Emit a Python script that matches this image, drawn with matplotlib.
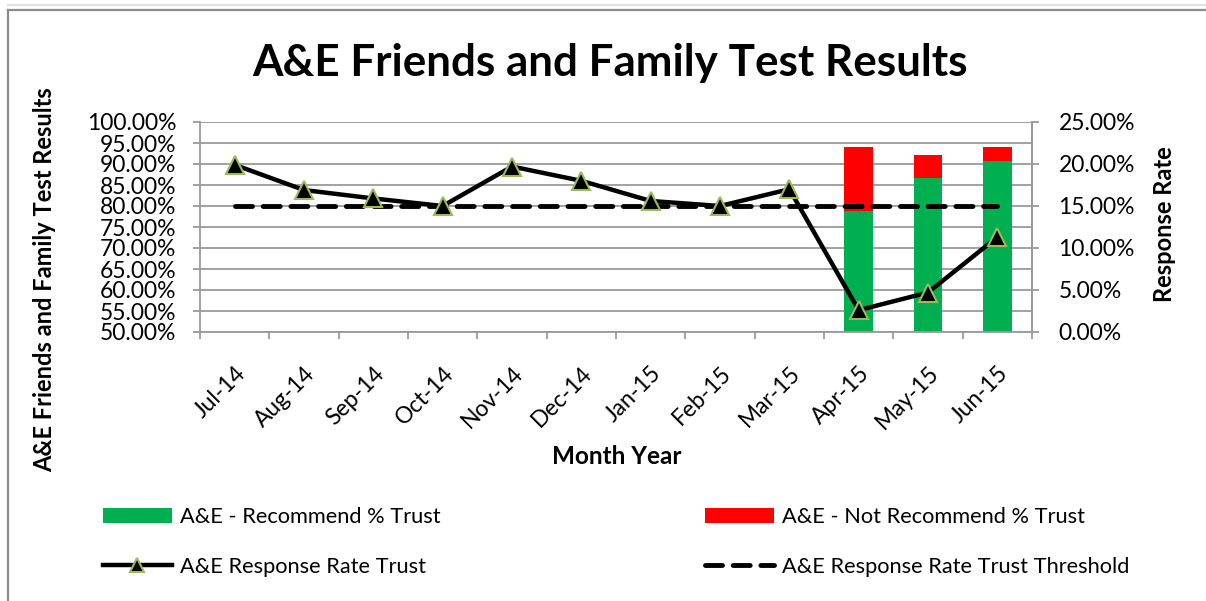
import matplotlib
matplotlib.use("Agg")
import matplotlib.pyplot as plt
import numpy as np
from matplotlib.lines import Line2D
from matplotlib.patches import Patch
from matplotlib.ticker import FuncFormatter, MultipleLocator, FixedLocator

plt.rcParams['font.family'] = ['Lato', 'DejaVu Sans']

months = ["Jul-14", "Aug-14", "Sep-14", "Oct-14", "Nov-14", "Dec-14",
          "Jan-15", "Feb-15", "Mar-15", "Apr-15", "May-15", "Jun-15"]
recommend = [0, 0, 0, 0, 0, 0, 0, 0, 0, 78.9, 86.7, 90.8]
not_recommend = [0, 0, 0, 0, 0, 0, 0, 0, 0, 15.2, 5.4, 3.3]
response_rate = [19.9, 16.9, 15.9, 15.0, 19.7, 18.0, 15.6, 15.0, 17.0, 2.6, 4.7, 11.3]
threshold = [15.0] * 12

W, H = 1206, 601
fig = plt.figure(figsize=(W / 100, H / 100), dpi=100)

# outer border
fig.add_artist(Line2D([8 / W, 8 / W], [0, 1 - 10 / H], color="#8c8c8c", lw=1.6, transform=fig.transFigure))
fig.add_artist(Line2D([8 / W, 1], [1 - 10 / H, 1 - 10 / H], color="#8c8c8c", lw=1.6, transform=fig.transFigure))
fig.add_artist(Line2D([8 / W, 1], [1 - 5 / H, 1 - 5 / H], color="#e3e3e3", lw=1.6, transform=fig.transFigure))

ax = fig.add_axes([200 / W, (H - 332) / H, 832 / W, 210 / H])
x = np.arange(len(months))

gray = "#9a9a9a"
ax.set_ylim(50, 100)
ax.set_xlim(-0.5, len(months) - 0.5)
ax.yaxis.set_major_locator(MultipleLocator(5))
ax.yaxis.set_major_formatter(FuncFormatter(lambda v, p: f"{v:.2f}%"))
ax.grid(axis="y", color=gray, lw=1.3)
ax.set_axisbelow(True)
ax.spines["top"].set_visible(False)
for s in ["left", "right", "bottom"]:
    ax.spines[s].set_color(gray)
    ax.spines[s].set_linewidth(1.3)

ax.bar(x, recommend, width=0.41, color="#00B050", zorder=2)
ax.bar(x, not_recommend, bottom=recommend, width=0.41, color="#FF0000", zorder=2)

ax.xaxis.set_major_locator(FixedLocator(x))
ax.xaxis.set_minor_locator(FixedLocator(np.arange(-0.5, len(months), 1)))
ax.set_xticklabels(months, rotation=45, ha="right", rotation_mode="anchor", fontsize=16.5)
ax.tick_params(axis="x", which="major", length=0, pad=22)
ax.tick_params(axis="x", which="minor", length=5, color=gray, width=1.3)
ax.tick_params(axis="y", length=5, color=gray, width=1.3, labelsize=16.5, pad=12)
ax.set_ylabel("A&E Friends and Family Test Results", fontsize=17, fontweight="bold", va="center")
ax.yaxis.set_label_coords((45 - 200) / 832, (332 - 280) / 210)
ax.set_xlabel("Month Year", fontsize=17.5, fontweight="bold", va="center")
ax.xaxis.set_label_coords((617 - 200) / 832, (332 - 456) / 210)

ax2 = ax.twinx()
ax2.set_ylim(0, 25)
ax2.yaxis.set_major_locator(MultipleLocator(5))
ax2.yaxis.set_major_formatter(FuncFormatter(lambda v, p: f"{v:.2f}%"))
ax2.tick_params(axis="y", length=5, color=gray, width=1.3, labelsize=16.5, pad=14)
for s in ["top", "left", "bottom"]:
    ax2.spines[s].set_visible(False)
ax2.spines["right"].set_color(gray)
ax2.spines["right"].set_linewidth(1.3)
ax2.set_ylabel("Response Rate", fontsize=17, fontweight="bold", va="center")
ax2.yaxis.set_label_coords((1165 - 200) / 832, (332 - 224) / 210)

ax2.plot(x, threshold, color="black", lw=3.5, linestyle=(0, (3.5, 2.2)), dash_capstyle="round", zorder=3)
ax2.plot(x, response_rate, color="black", lw=3.2, marker="^", markersize=13,
         markerfacecolor="black", markeredgecolor="#9BBB59", markeredgewidth=1.5, zorder=4)

fig.text(610 / W, 1 - 63 / H, "A&E Friends and Family Test Results", fontsize=31.7, fontweight="bold",
         ha="center", va="center")

h1 = [Patch(facecolor="#00B050"),
      Line2D([], [], color="black", lw=3.2, marker="^", markersize=10, markerfacecolor="black",
             markeredgecolor="#9BBB59", markeredgewidth=1.5)]
h2 = [Patch(facecolor="#FF0000"),
      Line2D([], [], color="black", lw=3.5, linestyle=(0, (3.5, 2.2)), dash_capstyle="round")]
common = dict(frameon=False, fontsize=15.7, handlelength=3.15, handletextpad=0.38, labelspacing=1.37,
              borderpad=0, borderaxespad=0, loc="upper left")
l1 = fig.legend(h1, ["A&E - Recommend % Trust", "A&E Response Rate Trust"],
                bbox_to_anchor=(103 / W, 1 - 507 / H), **common)
l2 = fig.legend(h2, ["A&E - Not Recommend % Trust", "A&E Response Rate Trust Threshold"],
                bbox_to_anchor=(705 / W, 1 - 507 / H), **common)

fig.savefig("out.png", dpi=100)
